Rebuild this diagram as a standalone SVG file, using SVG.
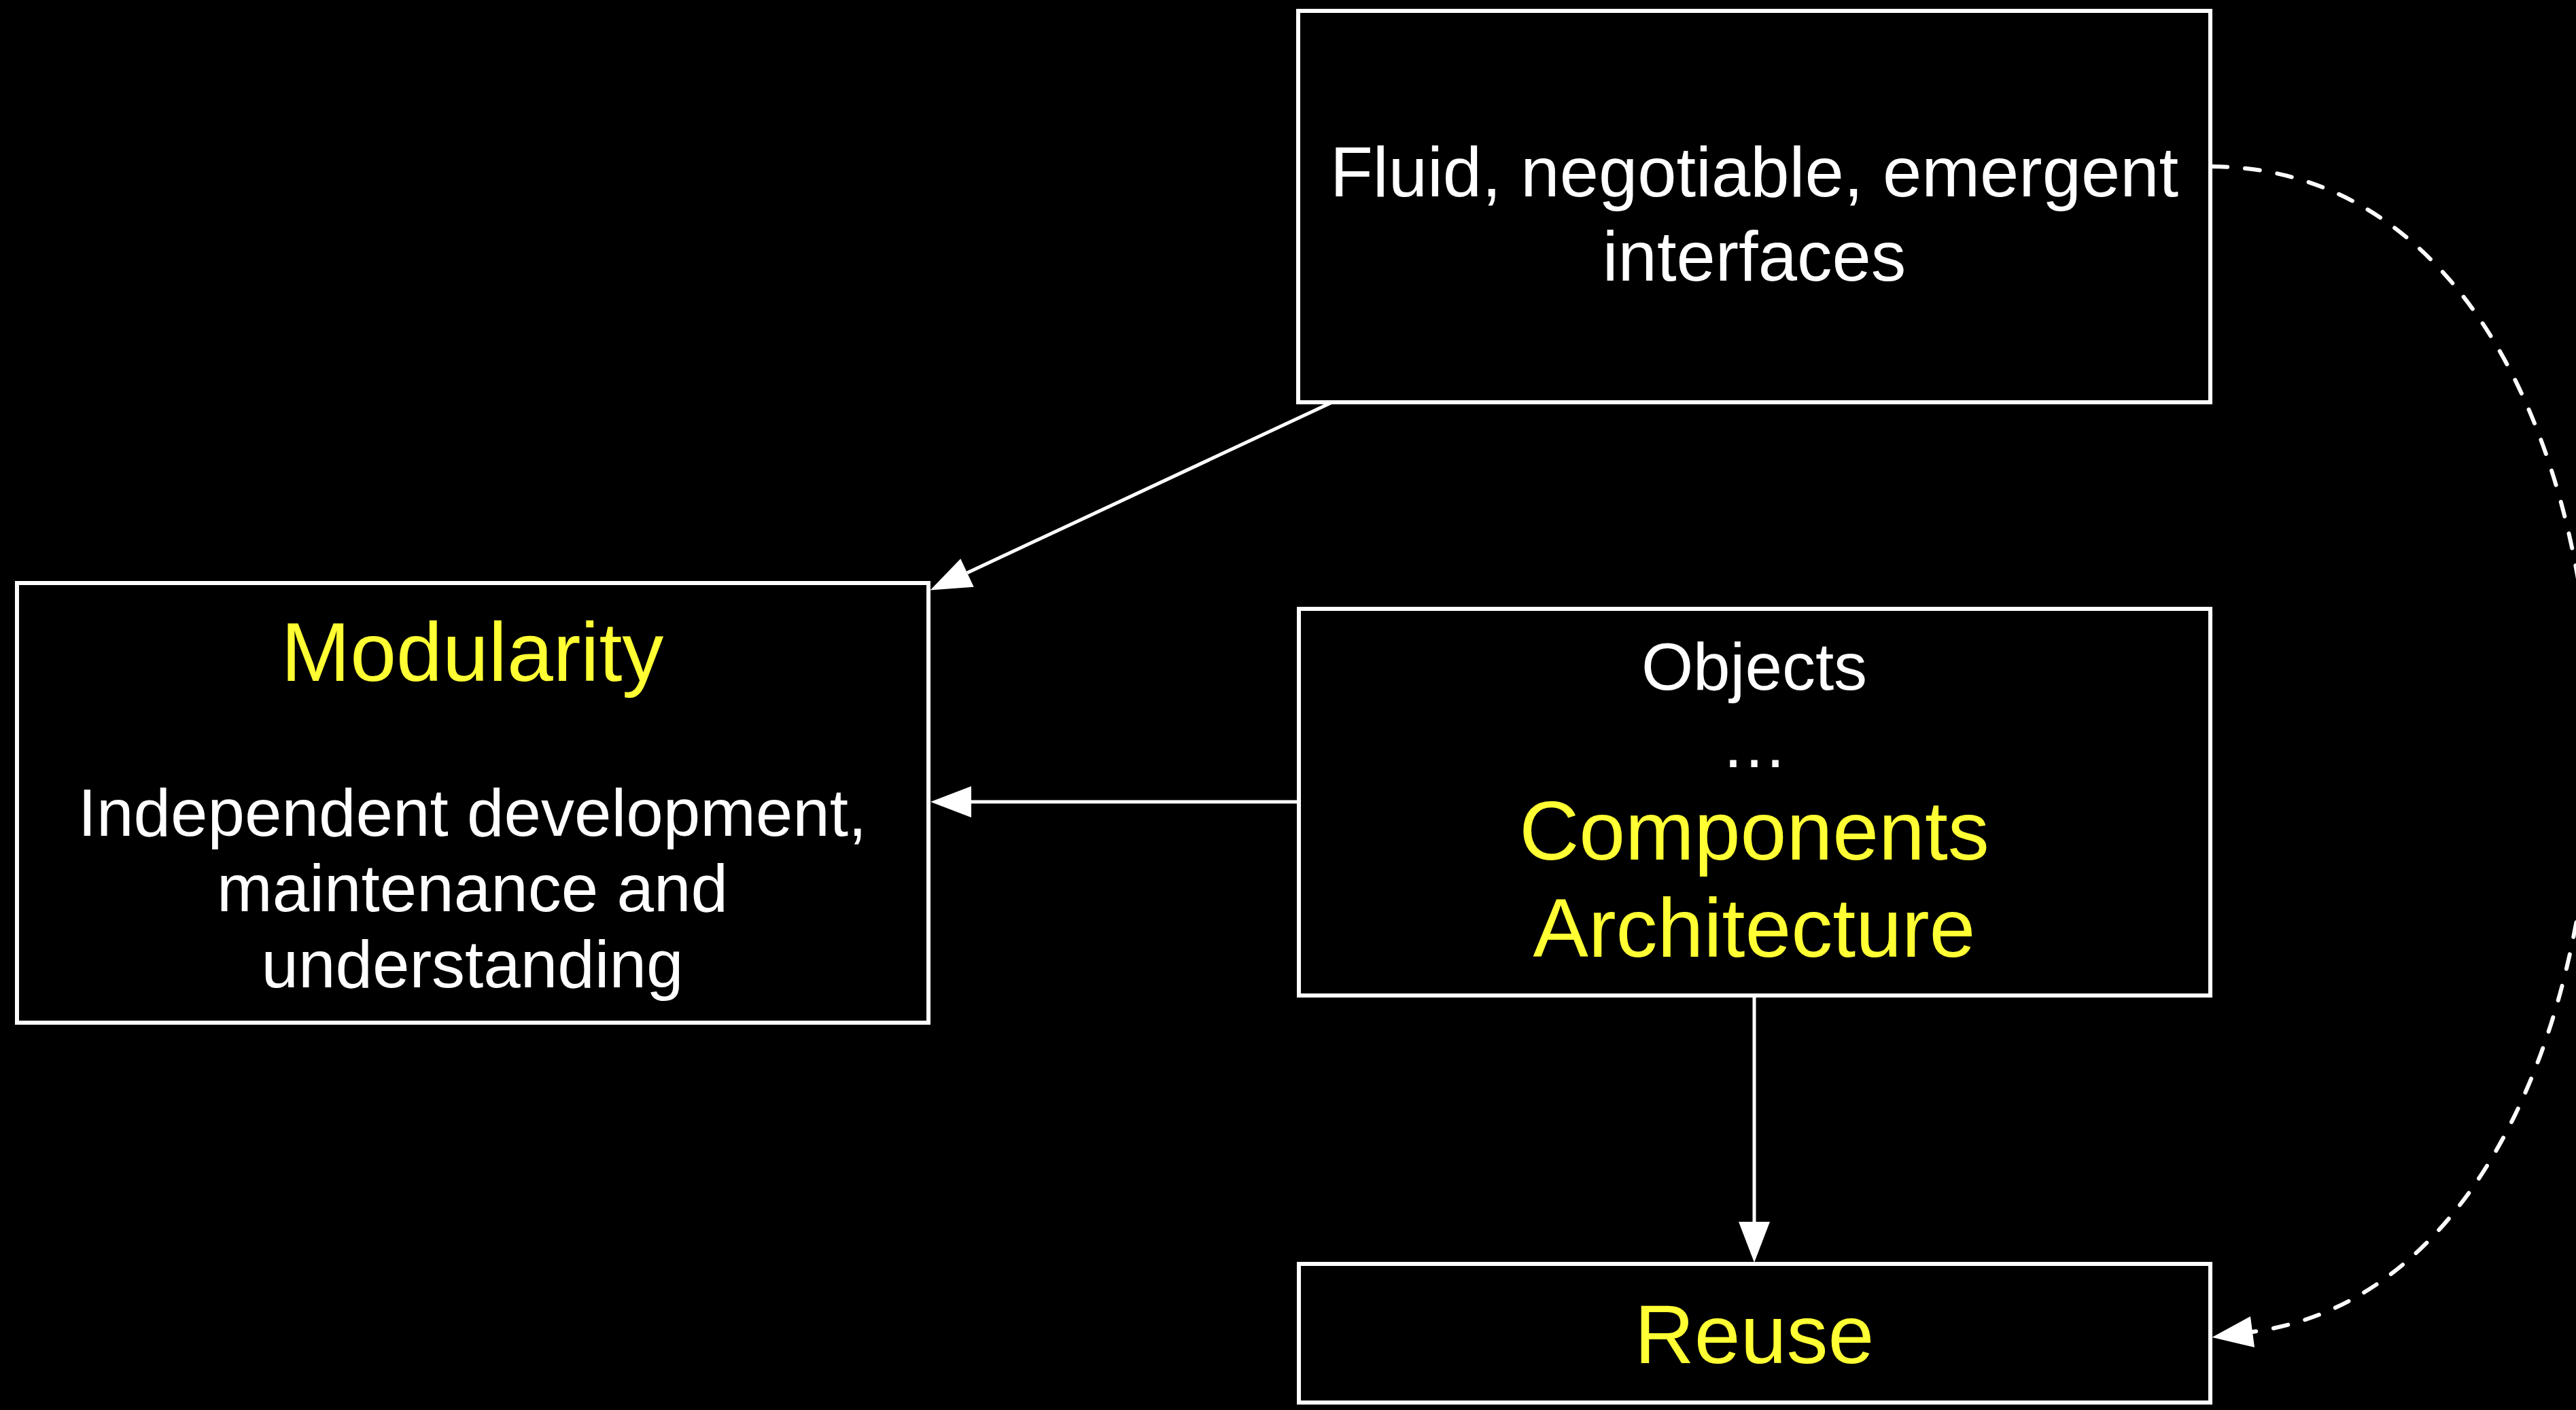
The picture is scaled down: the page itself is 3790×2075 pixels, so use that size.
<svg xmlns="http://www.w3.org/2000/svg" width="3790" height="2075" viewBox="0 0 3790 2075">
  <style>
    .box { fill: #000; stroke: #fff; stroke-width: 6; }
    .txt { font-family: "Liberation Sans", Arial, sans-serif; text-anchor: middle; fill: #fff; font-size: 98px; }
    .head { fill: #ffff33; font-size: 122px; }
    .edge { fill: none; stroke: #fff; stroke-width: 5; }
    .dash { stroke-width: 6; stroke-dasharray: 22 26; stroke-linecap: round; }
  </style>
  <defs>
    <marker id="arrow" markerUnits="userSpaceOnUse" markerWidth="62" markerHeight="48" refX="0" refY="23" orient="auto" overflow="visible">
      <polygon points="0,0 60,23 0,46" fill="#fff" stroke="none"/>
    </marker>
  </defs>
  <rect width="3790" height="2075" fill="#000"/>

  <g id="connectors">
    <line class="edge" x1="1960" y1="592" x2="1423" y2="843" marker-end="url(#arrow)"/>
    <line class="edge" x1="1910" y1="1180" x2="1429" y2="1180" marker-end="url(#arrow)"/>
    <line class="edge" x1="2581" y1="1465" x2="2581" y2="1798" marker-end="url(#arrow)"/>
    <path class="edge dash" d="M3255,245 C3990,250 3990,1870 3314,1960" marker-end="url(#arrow)"/>
  </g>

  <g id="node-interfaces">
    <rect class="box" x="1910" y="16" width="1342" height="576"/>
    <text class="txt" x="2581" y="289" style="font-size:103px">Fluid, negotiable, emergent</text>
    <text class="txt" x="2581" y="413" style="font-size:103px">interfaces</text>
  </g>

  <g id="node-modularity">
    <rect class="box" x="25" y="858" width="1341" height="647"/>
    <text class="txt head" x="695" y="1002">Modularity</text>
    <text class="txt" x="695" y="1230">Independent development,</text>
    <text class="txt" x="695" y="1341">maintenance and</text>
    <text class="txt" x="695" y="1453">understanding</text>
  </g>

  <g id="node-components">
    <rect class="box" x="1911" y="896" width="1341" height="569"/>
    <text class="txt" x="2581" y="1015">Objects</text>
    <text class="txt" x="2581" y="1129">…</text>
    <text class="txt head" x="2581" y="1265">Components</text>
    <text class="txt head" x="2581" y="1408">Architecture</text>
  </g>

  <g id="node-reuse">
    <rect class="box" x="1911" y="1860" width="1341" height="204"/>
    <text class="txt head" x="2581" y="2006">Reuse</text>
  </g>
</svg>
